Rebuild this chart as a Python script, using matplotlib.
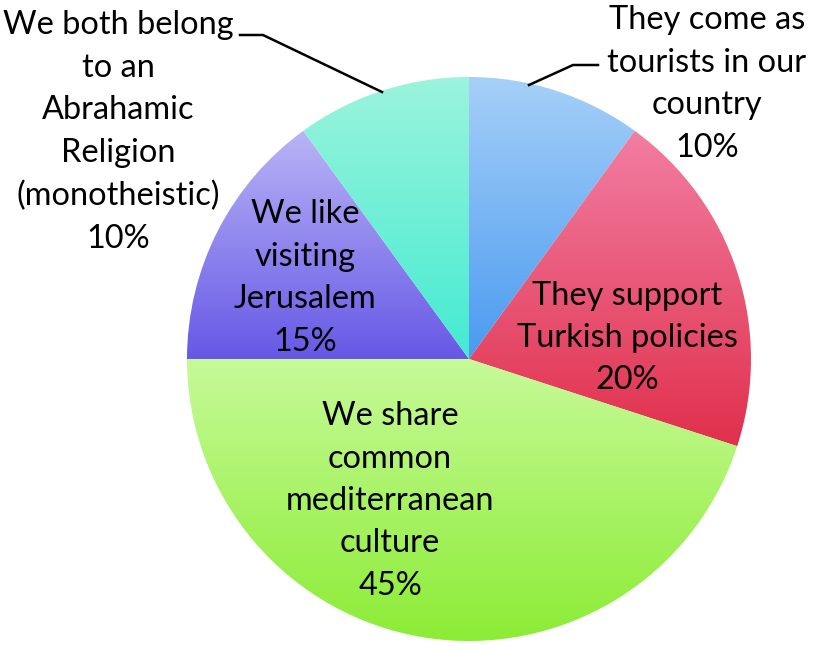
import matplotlib
matplotlib.use("Agg")
import matplotlib.pyplot as plt
import numpy as np
from matplotlib.colors import LinearSegmentedColormap

labels = ["They come as\ntourists in our\ncountry",
          "They support\nTurkish policies",
          "We share\ncommon\nmediterranean\nculture",
          "We like\nvisiting\nJerusalem",
          "We both belong\nto an\nAbrahamic\nReligion\n(monotheistic)"]
values = [10, 20, 45, 15, 10]

# (top colour, bottom colour) for each slice gradient
grad_colors = [("#a6d0f8", "#4a9af0"),
               ("#f27ea2", "#e0304c"),
               ("#c6fa98", "#8cec36"),
               ("#bab4f6", "#6658e6"),
               ("#9cf4dc", "#44ead2")]

W, H = 813, 646
fig = plt.figure(figsize=(W/100, H/100), dpi=100)
ax = fig.add_axes([0, 0, 1, 1])

cx, cy, R = 469, H - 359, 282
wedges, _ = ax.pie(values, center=(cx, cy), radius=R, startangle=90,
                   counterclock=False, frame=True,
                   wedgeprops=dict(linewidth=0))
ax.set_xlim(0, W)
ax.set_ylim(0, H)
ax.set_aspect("equal")
ax.axis("off")

for w, (ctop, cbot) in zip(wedges, grad_colors):
    path = w.get_path().transformed(w.get_patch_transform())
    ext = path.get_extents()
    cmap = LinearSegmentedColormap.from_list("g", [cbot, ctop])
    grad = np.linspace(0, 1, 256).reshape(-1, 1)
    im = ax.imshow(grad, cmap=cmap, origin="lower", aspect="auto",
                   extent=[ext.x0, ext.x1, ext.y0, ext.y1], zorder=2,
                   interpolation="bilinear")
    im.set_clip_path(w)
    w.set_facecolor("none")

font = dict(family="Lato", fontsize=23.4, color="black", ha="center",
            va="center", linespacing=1.52, zorder=5)

pct = [f"{v}%" for v in values]
# inside labels
ax.text(627, H - 338, labels[1] + "\n" + pct[1], **font)
ax.text(390, H - 501, labels[2] + "\n" + pct[2], **font)
ax.text(305, H - 278, labels[3] + "\n" + pct[3], **font)
# outside labels
ax.text(707, H - 84, labels[0] + "\n" + pct[0], **font)
ax.text(118, H - 132, labels[4] + "\n" + pct[4], **font)

# leader lines
ax.plot([529, 573, 598], [H - 85, H - 65, H - 65], color="black", lw=1.8, zorder=6)
ax.plot([240, 263, 382], [H - 35, H - 35, H - 92], color="black", lw=1.8, zorder=6)

fig.savefig("out.png", dpi=100)
